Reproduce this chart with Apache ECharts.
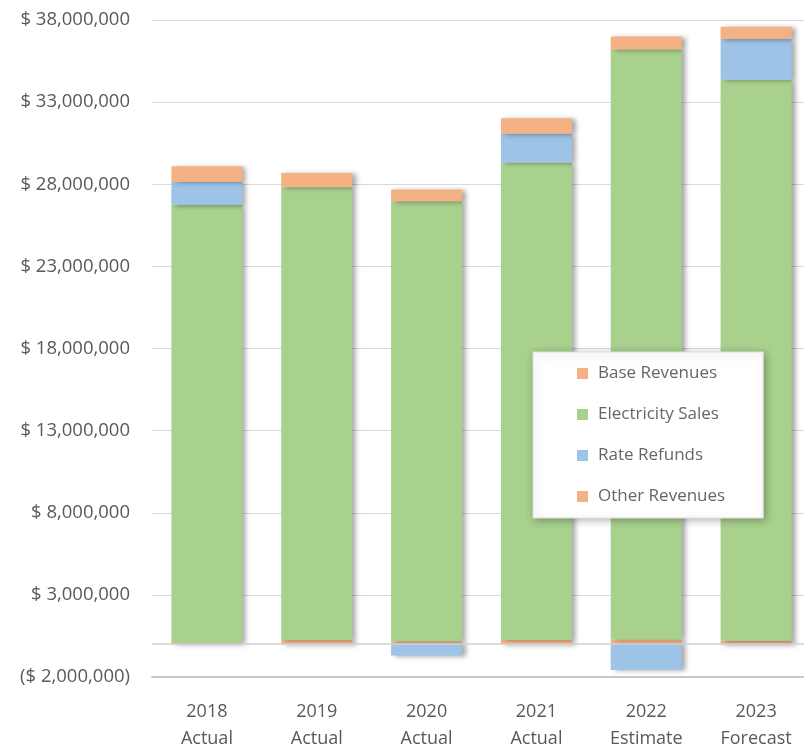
<!DOCTYPE html>
<html>
<head>
<meta charset="utf-8">
<script src="https://cdn.jsdelivr.net/npm/echarts@6/dist/echarts.min.js"></script>
<style>html,body{margin:0;padding:0;background:#fff;overflow:hidden;width:804px;height:749px;}#c{width:812px;height:749px;}</style>
</head>
<body>
<div id="c"></div>
<script>
var categories = ['2018\nActual', '2019\nActual', '2020\nActual', '2021\nActual', '2022\nEstimate', '2023\nForecast'];
var seriesNames = ['Base Revenues', 'Electricity Sales', 'Rate Refunds', 'Other Revenues'];
var baseRevenues = [50000, 250000, 170000, 250000, 290000, 200000];
var electricitySales = [26700000, 27560000, 26800000, 29060000, 35920000, 34140000];
var rateRefunds = [1380000, 0, -690000, 1770000, -1580000, 2500000];
var otherRevenues = [970000, 870000, 710000, 940000, 790000, 750000];
var yTicks = { min: -2000000, max: 38000000, interval: 5000000 };

var colors = ['#F4B183', '#A9D18E', '#9DC3E6', '#F4B183'];
var fontFam = '"Open Sans", Lato, sans-serif';

function fmt(v) {
  var s = Math.abs(v).toString().replace(/\B(?=(\d{3})+(?!\d))/g, ',');
  return v < 0 ? '($ ' + s + ')' : '$ ' + s;
}

var shadow = { shadowBlur: 5, shadowOffsetX: 4, shadowOffsetY: 1, shadowColor: 'rgba(0,0,0,0.35)' };
function mk(name, data, color, extra) {
  var s = {
    name: name, type: 'bar', stack: 'total', data: data, barWidth: 71,
    itemStyle: Object.assign({ color: color }, shadow)
  };
  return Object.assign(s, extra || {});
}

var chart = echarts.init(document.getElementById('c'));
chart.setOption({
  animation: false,
  color: colors,
  grid: { left: 152, top: 20, right: 1, bottom: 72, containLabel: false, outerBoundsMode: 'none' },
  legend: {
    orient: 'vertical', left: 533, top: 352,
    data: seriesNames,
    padding: [13, 38, 13, 44],
    itemWidth: 11, itemHeight: 11, itemGap: 24,
    icon: 'rect',
    backgroundColor: '#fff',
    borderColor: '#e0e0e0', borderWidth: 1,
    shadowBlur: 8, shadowColor: 'rgba(0,0,0,0.3)', shadowOffsetX: 2, shadowOffsetY: 2,
    textStyle: { fontFamily: fontFam, fontSize: 17, color: '#666666', padding: [0, 0, 0, 5] }
  },
  xAxis: {
    type: 'category', data: categories,
    axisLine: { onZero: false, lineStyle: { color: '#c8c8c8', width: 2 } },
    axisTick: { show: false },
    axisLabel: { fontFamily: fontFam, fontSize: 18, color: '#595959', lineHeight: 27, margin: 21 }
  },
  yAxis: {
    type: 'value', min: yTicks.min, max: yTicks.max, interval: yTicks.interval,
    axisLine: { show: false }, axisTick: { show: false },
    splitLine: { lineStyle: { color: '#d9d9d9', width: 1 } },
    axisLabel: { fontFamily: fontFam, fontSize: 18.5, color: '#595959', margin: 22, formatter: fmt }
  },
  series: [
    mk(seriesNames[0], baseRevenues, colors[0], {
      markLine: { silent: true, symbol: 'none', label: { show: false },
        lineStyle: { color: '#d0d0d0', type: 'solid', width: 1.5 }, data: [{ yAxis: 0 }] }
    }),
    mk(seriesNames[1], electricitySales, colors[1]),
    mk(seriesNames[2], rateRefunds, colors[2]),
    mk(seriesNames[3], otherRevenues, colors[3])
  ]
});
</script>
</body>
</html>
